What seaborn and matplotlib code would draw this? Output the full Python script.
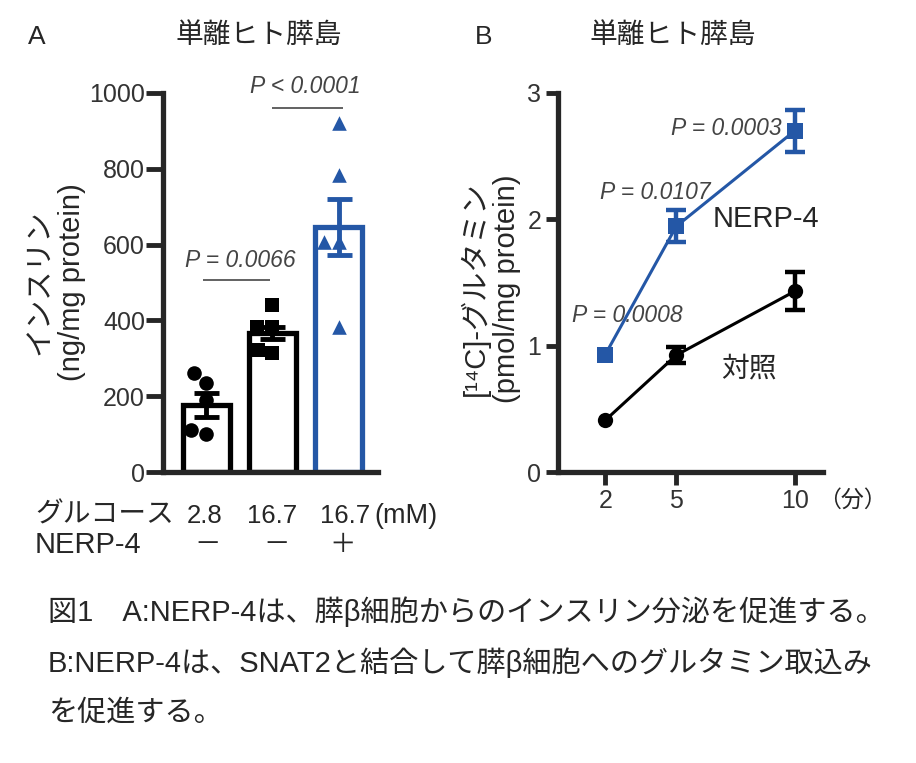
import numpy as np
import pandas as pd
import matplotlib
matplotlib.use("Agg")
import matplotlib.pyplot as plt
import seaborn as sns

sns.set_style("ticks")
plt.rcParams['font.family'] = ['Liberation Sans', 'Noto Sans CJK JP', 'DejaVu Sans']

# ---------------- data ----------------
# Panel A: insulin secretion (ng/mg protein)
groups = ["2.8 −", "16.7 −", "16.7 +"]
pts_low = [260, 235, 190, 100, 110]
pts_high = [440, 383, 383, 314, 322]
pts_nerp = [921, 784, 607, 607, 383]
bar_means = [177, 367, 646]
bar_sems = [31, 15, 74]
glucose_labels = ["2.8", "16.7", "16.7"]
nerp_signs = ["－", "－", "＋"]

# Panel B: [14C]-glutamine uptake (pmol/mg protein)
times = [2, 5, 10]
nerp_uptake = [0.93, 1.945, 2.70]
nerp_sem = [np.nan, 0.125, 0.165]
ctrl_uptake = [0.41, 0.925, 1.43]
ctrl_sem = [np.nan, 0.065, 0.15]
pvals_b = ["P = 0.0008", "P = 0.0107", "P = 0.0003"]

BLUE = "#2457a6"
BLACK = "#000000"
TXT = "#333333"
PTXT = "#444444"

W, H = 916, 763
fig = plt.figure(figsize=(W / 100, H / 100), dpi=100)


def px_axes(l, t, r, b):
    return fig.add_axes([l / W, 1 - b / H, (r - l) / W, (b - t) / H])


# ---------------- Panel A ----------------
axa = px_axes(163, 93, 378, 472)
sns.barplot(x=groups, y=bar_means, order=groups, color="white", width=0.71,
            errorbar=None, ax=axa, zorder=1)
edge_cols = [BLACK, BLACK, BLUE]
for p, c in zip(axa.patches, edge_cols):
    p.set_facecolor("white")
    p.set_edgecolor(c)
    p.set_linewidth(3.8)

df = pd.DataFrame({
    "g": [groups[0]] * len(pts_low) + [groups[1]] * len(pts_high) + [groups[2]] * len(pts_nerp),
    "v": pts_low + pts_high + pts_nerp,
})
markers = ["o", "s", "^"]
for g, m, c in zip(groups, markers, edge_cols):
    sns.swarmplot(data=df[df.g == g], x="g", y="v", order=groups, marker=m,
                  color=c, size=10.5, linewidth=0, ax=axa, zorder=3)

for i, (mu, se, c) in enumerate(zip(bar_means, bar_sems, edge_cols)):
    axa.errorbar(i, mu, yerr=se, fmt="none", ecolor=c, elinewidth=3.5,
                 capsize=9, capthick=3.5, zorder=4)

axa.set_xlim(-0.65, 2.59)
axa.set_ylim(0, 1000)
axa.set_yticks([0, 200, 400, 600, 800, 1000])
axa.set_xticks([])
axa.set_xlabel("")
axa.set_ylabel("インスリン\n(ng/mg protein)", fontsize=21, linespacing=1.15)
axa.yaxis.set_label_coords(-0.36, 0.5)
for s in ["top", "right"]:
    axa.spines[s].set_visible(False)
for s in ["left", "bottom"]:
    axa.spines[s].set_linewidth(3.8)
axa.tick_params(axis="y", length=12, width=3.5, labelsize=18, labelcolor=TXT, pad=1)

# significance annotations A
axa.hlines(507, -0.05, 0.96, color="#555555", lw=1.3, clip_on=False)
axa.text(0.51, 559, "P = 0.0066", style="italic", fontsize=16.5, color=PTXT,
         ha="center", va="center")
axa.hlines(960, 1.0, 2.06, color="#555555", lw=1.3, clip_on=False)
axa.text(1.49, 1016, "P < 0.0001", style="italic", fontsize=16.5, color=PTXT,
         ha="center", va="center", clip_on=False)

# ---------------- Panel B ----------------
axb = px_axes(558, 93, 823, 472)
sns.lineplot(x=times, y=ctrl_uptake, color=BLACK, marker="o", markersize=11,
             markeredgewidth=0, linewidth=2.2, ax=axb)
sns.lineplot(x=times, y=nerp_uptake, color=BLUE, marker="s", markersize=12,
             markeredgewidth=0, linewidth=2.2, ax=axb)
axb.errorbar(times, ctrl_uptake, yerr=ctrl_sem, fmt="none", ecolor=BLACK,
             elinewidth=3.2, capsize=7, capthick=3.2)
axb.errorbar(times, nerp_uptake, yerr=nerp_sem, fmt="none", ecolor=BLUE,
             elinewidth=3.2, capsize=7, capthick=3.2)
axb.set_xlim(0, 11.2)
axb.set_ylim(0, 3)
axb.set_xticks(times)
axb.set_yticks([0, 1, 2, 3])
axb.set_ylabel("[¹⁴C]-グルタミン\n(pmol/mg protein)", fontsize=21, linespacing=1.15)
axb.yaxis.set_label_coords(-0.14, 0.483)
for s in ["top", "right"]:
    axb.spines[s].set_visible(False)
for s in ["left", "bottom"]:
    axb.spines[s].set_linewidth(3.8)
axb.tick_params(axis="both", length=9, width=3.5, labelsize=18, labelcolor=TXT, pad=3)
fig.text(818 / W, 1 - 500 / H, "（分）", fontsize=16.5, ha="left", va="center")

pv_pos = [(2.93, 1.24), (4.1, 2.21), (7.11, 2.72)]
for (x, y), t in zip(pv_pos, pvals_b):
    axb.text(x, y, t, style="italic", fontsize=16.5, color=PTXT, ha="center", va="center")
axb.text(6.52, 2.0, "NERP-4", fontsize=21, ha="left", va="center")
axb.text(6.9, 0.81, "対照", fontsize=20, ha="left", va="center")

# ---------------- titles ----------------
fig.text(28 / W, 1 - 37 / H, "A", fontsize=19, ha="left", va="center")
fig.text(259 / W, 1 - 36 / H, "単離ヒト膵島", fontsize=20, ha="center", va="center")
fig.text(475 / W, 1 - 37 / H, "B", fontsize=19, ha="left", va="center")
fig.text(673 / W, 1 - 36 / H, "単離ヒト膵島", fontsize=20, ha="center", va="center")

# ---------------- condition rows under panel A ----------------
row1_y = 1 - 516 / H
row2_y = 1 - 545 / H
fig.text(35 / W, row1_y, "グルコース", fontsize=20, ha="left", va="center")
for cx, lab in zip([205, 272, 345], glucose_labels):
    fig.text(cx / W, row1_y, lab, fontsize=18.5, ha="center", va="center")
fig.text(374 / W, row1_y, "(mM)", fontsize=19.5, ha="left", va="center")
fig.text(35 / W, row2_y, "NERP-4", fontsize=21, ha="left", va="center")
for cx, lab in zip([208, 277, 343], nerp_signs):
    fig.text(cx / W, row2_y, lab, fontsize=19, ha="center", va="center")

# ---------------- caption ----------------
cap = [
    "図1　A:NERP-4は、膵β細胞からのインスリン分泌を促進する。",
    "B:NERP-4は、SNAT2と結合して膵β細胞へのグルタミン取込み",
    "を促進する。",
]
for yy, line in zip([612, 663, 713], cap):
    fig.text(48 / W, 1 - yy / H, line, fontsize=21, ha="left", va="center")

fig.savefig("out.png", dpi=100)
